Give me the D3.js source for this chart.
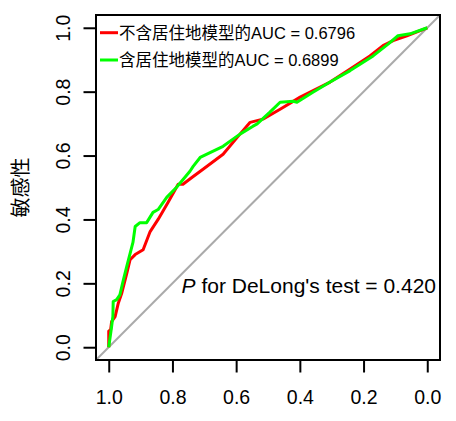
<!DOCTYPE html>
<html>
<head>
<meta charset="utf-8">
<script src="https://cdn.jsdelivr.net/npm/d3@7"></script>
<style>
  body { margin: 0; background: #fff; }
  svg { display: block; font-family: "Liberation Sans", Arial, "Noto Sans CJK SC", sans-serif; }
</style>
</head>
<body>
<script>
(function () {
  // specificity / sensitivity
  var redSpec = [1, 1, 0.994, 0.991, 0.98, 0.97, 0.959, 0.943, 0.933, 0.917, 0.892, 0.87, 0.845, 0.814, 0.782, 0.767, 0.738, 0.704, 0.641, 0.594, 0.556, 0.516, 0.462, 0.399, 0.305, 0.242, 0.18, 0.139, 0.107, 0.064, 0];
  var redSens = [0, 0.05, 0.055, 0.08, 0.096, 0.138, 0.17, 0.233, 0.274, 0.29, 0.305, 0.362, 0.4, 0.453, 0.51, 0.51, 0.532, 0.557, 0.604, 0.66, 0.704, 0.714, 0.745, 0.783, 0.83, 0.871, 0.912, 0.944, 0.96, 0.975, 1];
  var greenSpec = [1, 0.991, 0.987, 0.986, 0.975, 0.965, 0.954, 0.943, 0.924, 0.917, 0.902, 0.881, 0.861, 0.845, 0.818, 0.787, 0.745, 0.735, 0.713, 0.641, 0.588, 0.547, 0.534, 0.494, 0.462, 0.421, 0.409, 0.359, 0.305, 0.242, 0.17, 0.123, 0.092, 0.054, 0];
  var greenSens = [0, 0.065, 0.096, 0.143, 0.149, 0.164, 0.211, 0.255, 0.328, 0.378, 0.39, 0.39, 0.422, 0.431, 0.469, 0.501, 0.551, 0.566, 0.594, 0.629, 0.667, 0.692, 0.699, 0.736, 0.767, 0.77, 0.767, 0.798, 0.83, 0.866, 0.912, 0.949, 0.975, 0.981, 1];

  var xTicks = [1.0, 0.8, 0.6, 0.4, 0.2, 0.0];
  var yTicks = [0.0, 0.2, 0.4, 0.6, 0.8, 1.0];
  var legendLabels = ['不含居住地模型的AUC = 0.6796', '含居住地模型的AUC = 0.6899'];
  var legendColors = ['#FF0000', '#00FF00'];
  var yTitle = '敏感性';
  var pValue = '0.420';

  var width = 456, height = 421;
  var left = 96, right = 440, top = 15, bottom = 360;

  var x = d3.scaleLinear().domain([1.04, -0.04]).range([left, right]);
  var y = d3.scaleLinear().domain([-0.04, 1.04]).range([bottom, top]);

  var svg = d3.select('body').append('svg')
    .attr('width', width)
    .attr('height', height);

  svg.append('defs').append('clipPath').attr('id', 'plotclip')
    .append('rect')
    .attr('x', left).attr('y', top)
    .attr('width', right - left).attr('height', bottom - top);

  // reference diagonal
  svg.append('line')
    .attr('clip-path', 'url(#plotclip)')
    .attr('x1', x(1.04)).attr('y1', y(-0.04))
    .attr('x2', x(-0.04)).attr('y2', y(1.04))
    .attr('stroke', '#AAAAAA')
    .attr('stroke-width', 2);

  var line = d3.line()
    .x(function (d) { return x(d[0]); })
    .y(function (d) { return y(d[1]); });

  var curves = [d3.zip(redSpec, redSens), d3.zip(greenSpec, greenSens)];

  svg.selectAll('path.roc')
    .data(curves)
    .enter()
    .append('path')
    .attr('class', 'roc')
    .attr('d', line)
    .attr('fill', 'none')
    .attr('stroke', function (d, i) { return legendColors[i]; })
    .attr('stroke-width', 3)
    .attr('stroke-linejoin', 'round');

  // box
  svg.append('rect')
    .attr('x', left).attr('y', top)
    .attr('width', right - left).attr('height', bottom - top)
    .attr('fill', 'none')
    .attr('stroke', '#000')
    .attr('stroke-width', 2);

  var xAxis = d3.axisBottom(x)
    .tickValues(xTicks)
    .tickSize(13)
    .tickFormat(d3.format('.1f'));

  var gx = svg.append('g')
    .attr('transform', 'translate(0,' + (bottom - 0.5) + ')')
    .call(xAxis);
  gx.select('.domain').remove();
  gx.selectAll('.tick line').attr('stroke-width', 2);
  gx.selectAll('.tick text')
    .attr('y', 44.5)
    .attr('dy', null)
    .attr('font-size', 19.5)
    .attr('font-family', '"Liberation Sans", Arial, sans-serif')
    .attr('fill', '#000');

  var yAxis = d3.axisLeft(y)
    .tickValues(yTicks)
    .tickSize(13)
    .tickFormat(d3.format('.1f'));

  var gy = svg.append('g')
    .attr('transform', 'translate(' + (left + 0.5) + ',0)')
    .call(yAxis);
  gy.select('.domain').remove();
  gy.selectAll('.tick line').attr('stroke-width', 2);
  gy.selectAll('.tick text')
    .attr('x', null)
    .attr('dy', null)
    .attr('text-anchor', 'middle')
    .attr('transform', 'translate(-26.5,0) rotate(-90)')
    .attr('font-size', 19.5)
    .attr('font-family', '"Liberation Sans", Arial, sans-serif')
    .attr('fill', '#000');

  svg.append('text')
    .attr('transform', 'translate(28,' + y(0.5) + ') rotate(-90)')
    .attr('text-anchor', 'middle')
    .attr('font-size', 20)
    .attr('font-family', '"Noto Sans CJK SC", sans-serif')
    .text(yTitle);

  // legend
  var lg = svg.selectAll('g.legend')
    .data(legendLabels)
    .enter()
    .append('g')
    .attr('class', 'legend')
    .attr('transform', function (d, i) { return 'translate(0,' + (32.7 + i * 27.3) + ')'; });

  lg.append('line')
    .attr('x1', 100).attr('x2', 118)
    .attr('stroke', function (d, i) { return legendColors[i]; })
    .attr('stroke-width', 3);

  lg.append('text')
    .attr('x', 119)
    .attr('y', 6)
    .attr('font-size', 16.5)
    .text(function (d) { return d; });

  var pt = svg.append('text')
    .attr('x', 436)
    .attr('y', 293)
    .attr('text-anchor', 'end')
    .attr('font-size', 21);
  pt.append('tspan').attr('font-style', 'italic').text('P');
  pt.append('tspan').text(' for DeLong\'s test = ' + pValue);
}());
</script>
</body>
</html>
